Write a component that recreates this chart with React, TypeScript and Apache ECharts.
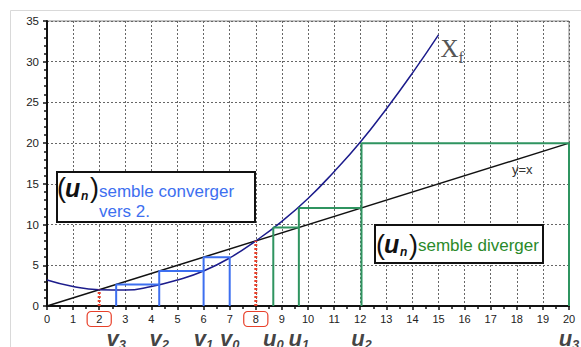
import React, { useEffect, useRef } from 'react';
import * as echarts from 'echarts';

// Curve y = f(x)
const curveX = [0, 1, 2, 3, 4, 5, 6, 7, 8, 9, 10, 11, 12, 13, 14, 15];
const curveY = [3.2, 2.4, 2.0, 1.95, 2.4, 3.2, 4.3, 5.9, 8.0, 10.4, 13.2, 16.5, 20.1, 24.2, 28.6, 33.3];
// line y = x
const diagonalX = [0, 20];
// converging sequence v0..v3 and diverging sequence u0..u3
const vSeq = [7.0, 6.0, 4.3, 2.65];
const uSeq = [8.67, 9.65, 12.05, 20];
// fixed points
const fixedPoints = [2, 8];

const FONT = 'Liberation Sans, Arial, sans-serif';
const BLUE = '#3d6ff0';
const GREEN_LINE = '#2f9460';
const GREEN_TEXT = '#2a8a2a';
const RED = '#e8402a';

function cobweb(seq: number[]): number[][] {
  const pts: number[][] = [];
  for (let k = 0; k < seq.length - 1; k++) {
    const a = seq[k];
    const b = seq[k + 1];
    pts.push([a, 0], [a, b], [b, b], [b, 0]);
  }
  return pts;
}

function seqLabels(seq: number[], letter: string) {
  return {
    type: 'scatter',
    symbolSize: 0,
    silent: true,
    clip: false,
    z: 20,
    data: seq.map((x) => [x, 0]),
    label: {
      show: true,
      position: 'bottom',
      distance: 21,
      formatter: (p: any) => `{m|${letter}}{s|${p.dataIndex}}`,
      rich: {
        m: { fontSize: 22, fontWeight: 'bold', fontStyle: 'italic', fontFamily: FONT, color: '#111', verticalAlign: 'top' },
        s: { fontSize: 13, fontWeight: 'bold', fontStyle: 'italic', fontFamily: FONT, color: '#111', verticalAlign: 'top', padding: [11, 0, 0, 0] },
      },
    },
  };
}

function txt(text: string, x: number, y: number, style: any) {
  return {
    type: 'text',
    z: 110,
    silent: true,
    style: { text, x, y, verticalAlign: 'middle', align: 'left', fontFamily: FONT, ...style },
  };
}

export default function App() {
  const ref = useRef<HTMLDivElement>(null);
  useEffect(() => {
    if (!ref.current) return;
    const chart = echarts.init(ref.current, undefined, { renderer: 'svg' });

    const curveData = curveX.map((x, i) => [x, curveY[i]]);
    const diagData = diagonalX.map((x) => [x, x]);

    const series: any[] = [
      {
        type: 'line',
        data: diagData,
        symbol: 'none',
        silent: true,
        lineStyle: { color: '#111', width: 1.5 },
        z: 3,
      },
      {
        type: 'line',
        data: curveData,
        smooth: true,
        symbol: 'none',
        silent: true,
        lineStyle: { color: '#1c1c8c', width: 1.5 },
        z: 4,
        endLabel: {
          show: true,
          distance: 2,
          offset: [0, 16],
          formatter: '{X|X}{f|f}',
          rich: {
            X: { fontSize: 25, fontFamily: 'Liberation Serif, Times New Roman, serif', color: '#555', verticalAlign: 'top' },
            f: { fontSize: 16, fontFamily: 'Liberation Serif, Times New Roman, serif', color: '#555', verticalAlign: 'top', padding: [14, 0, 0, 0] },
          },
        },
      },
      {
        type: 'line',
        data: cobweb(vSeq),
        symbol: 'none',
        silent: true,
        clip: false,
        lineStyle: { color: BLUE, width: 2 },
        z: 5,
      },
      {
        type: 'line',
        data: cobweb(uSeq),
        symbol: 'none',
        silent: true,
        clip: false,
        lineStyle: { color: GREEN_LINE, width: 2 },
        z: 5,
      },
      ...fixedPoints.map((p) => ({
        type: 'line',
        data: [[p, 0], [p, p]],
        symbol: 'none',
        silent: true,
        lineStyle: { color: RED, width: 3, type: [2, 2] },
        z: 6,
      })),
      seqLabels(vSeq, 'v'),
      seqLabels(uSeq, 'u'),
    ];

    chart.setOption({
      animation: false,
      grid: {
        left: 47,
        right: 12,
        top: 21,
        bottom: 41,
        show: true,
        borderColor: '#888',
        borderWidth: 1,
        backgroundColor: 'transparent',
      },
      xAxis: {
        type: 'value',
        min: 0,
        max: 20,
        interval: 1,
        axisLine: { show: true, onZero: false, lineStyle: { color: '#111', width: 2 } },
        axisTick: { show: true, length: 4, lineStyle: { color: '#111', width: 1.5 } },
        minorTick: { show: true, splitNumber: 2, length: 3, lineStyle: { color: '#111', width: 1.5 } },
        splitLine: { show: true, lineStyle: { color: '#666', width: 1, type: [2, 2] } },
        axisLabel: {
          margin: 7,
          formatter: (v: number) => (fixedPoints.includes(v) ? `{b|${v}}` : `{a|${v}}`),
          rich: {
            a: { fontSize: 11, fontFamily: FONT, color: '#222', padding: [2, 0, 2, 0], lineHeight: 12 },
            b: {
              fontSize: 11,
              fontFamily: FONT,
              color: '#222',
              padding: [2, 9, 2, 9],
              lineHeight: 12,
              borderColor: RED,
              borderWidth: 1.2,
              borderRadius: 4,
            },
          },
        },
      },
      yAxis: {
        type: 'value',
        min: 0,
        max: 35,
        interval: 5,
        axisLine: { show: true, onZero: false, lineStyle: { color: '#111', width: 2 } },
        axisTick: { show: true, length: 4, lineStyle: { color: '#111', width: 1.5 } },
        minorTick: { show: true, splitNumber: 5, length: 3, lineStyle: { color: '#111', width: 1.5 } },
        splitLine: { show: true, lineStyle: { color: '#666', width: 1, type: [2, 2] } },
        axisLabel: { margin: 8, fontSize: 11.5, fontFamily: FONT, color: '#222' },
      },
      series,
      graphic: [
        {
          type: 'rect',
          z: -10,
          silent: true,
          shape: { x: 10.5, y: 10.5, width: 620, height: 400 },
          style: { fill: 'none', stroke: '#d9d9d9', lineWidth: 1 },
        },
        {
          type: 'rect',
          z: 100,
          silent: true,
          shape: { x: 57, y: 172, width: 198, height: 50 },
          style: { fill: '#fff', stroke: '#111', lineWidth: 2 },
        },
        txt('(', 57, 188, { fontSize: 27, fill: '#111' }),
        txt('u', 65, 188, { fontSize: 25, fontWeight: 'bold', fontStyle: 'italic', fill: '#111' }),
        txt('n', 81, 196, { fontSize: 12, fontWeight: 'bold', fontStyle: 'italic', fill: '#111' }),
        txt(')', 90, 188, { fontSize: 27, fill: '#111' }),
        txt('semble converger', 99, 191, { fontSize: 17, fill: BLUE }),
        txt('vers 2.', 99, 211, { fontSize: 17, fill: BLUE }),
        {
          type: 'rect',
          z: 100,
          silent: true,
          shape: { x: 375, y: 225, width: 168, height: 38 },
          style: { fill: '#fff', stroke: '#111', lineWidth: 2 },
        },
        txt('(', 376, 244.5, { fontSize: 27, fill: '#111' }),
        txt('u', 384, 244, { fontSize: 25, fontWeight: 'bold', fontStyle: 'italic', fill: '#111' }),
        txt('n', 400, 252, { fontSize: 12, fontWeight: 'bold', fontStyle: 'italic', fill: '#111' }),
        txt(')', 409, 244.5, { fontSize: 27, fill: '#111' }),
        txt('semble diverger', 418, 245, { fontSize: 17, fill: GREEN_TEXT }),
        txt('y=x', 512, 169, { fontSize: 13, fill: '#333' }),
      ],
    });

    return () => chart.dispose();
  }, []);

  return (
    <div
      ref={ref}
      style={{ position: 'fixed', left: 0, top: 0, width: 581, height: 347, background: '#fff' }}
    />
  );
}
